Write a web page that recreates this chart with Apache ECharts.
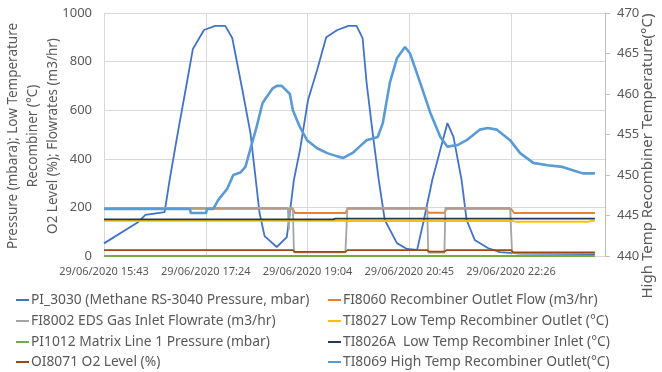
<!DOCTYPE html>
<html>
<head>
<meta charset="utf-8">
<script src="https://cdn.jsdelivr.net/npm/echarts@6/dist/echarts.min.js"></script>
<style>html,body{margin:0;padding:0;background:#fff}#c{width:662px;height:372px}</style>
</head>
<body>
<div id="c"></div>
<script>
// x values are minutes after 29/06/2020 15:43
const xTickLabels = ["29/06/2020 15:43", "29/06/2020 17:24", "29/06/2020 19:04", "29/06/2020 20:45", "29/06/2020 22:26"];
const xTickStep = 100.75;

const seriesNames = [
  "PI_3030 (Methane RS-3040 Pressure, mbar)",
  "FI8060 Recombiner Outlet Flow (m3/hr)",
  "FI8002 EDS Gas Inlet Flowrate (m3/hr)",
  "TI8027 Low Temp Recombiner Outlet (°C)",
  "PI1012 Matrix Line 1 Pressure (mbar)",
  "TI8026A  Low Temp Recombiner Inlet (°C)",
  "OI8071 O2 Level (%)",
  "TI8069 High Temp Recombiner Outlet(°C)"
];

const pi3030_t = [0,34,41,60,65,73,82,88,99,110,120,127,137,145,154,159,171,181,188,194,202,211,220,231,242,250,256,260,266,272,278,290,300,310,316,325,340,346,354,359,367,380,392,412,486];
const pi3030_v = [52,140,169,181,313,506,712,852,930,947,947,897,683,506,177,82,37,78,313,436,642,765,900,930,947,947,897,712,506,313,148,53,29,25,136,313,547,490,313,148,66,33,16,10,8];

const fi8060_t = [0,187,189,239,241,319,321,337,339,403,406,486];
const fi8060_v = [194,194,177,177,194,194,178,178,194,194,177,177];

const fi8002_t = [0,182,183,184,187,188,239,241,320,321,337,338,402,404,486];
const fi8002_v = [198,198,107,198,198,15,15,198,198,14,14,198,198,12,12];

const ti8027_t = [0,240,242,405,407,480,482,486];
const ti8027_v = [145,145,144,144,141,141,145,145];

const pi1012_t = [0,486];
const pi1012_v = [0,0];

const ti8026a_t = [0,227,229,486];
const ti8026a_v = [151,151,154,154];

const oi8071_t = [0,187,189,239,241,320,322,337,339,403,405,486];
const oi8071_v = [24,24,17,17,24,24,18,18,24,24,15,15];

const ti8069_t = [0,85,86,101,102,108,113,122,128,135,140,151,157,167,171,176,184,187,194,201,211,221,231,237,247,253,260,271,276,283,290,298,303,313,323,333,340,350,359,372,380,389,402,412,425,439,454,464,474,486];
const ti8069_v = [445.8,445.8,445.3,445.3,445.8,445.8,446.9,448.3,450.0,450.3,451.0,455.9,458.9,460.7,461.0,461.0,460.0,458.0,455.9,454.3,453.3,452.7,452.3,452.1,452.8,453.5,454.3,454.7,456.4,461.4,464.4,465.8,465.0,461.4,457.7,454.7,453.5,453.7,454.3,455.6,455.8,455.6,454.3,452.7,451.5,451.2,451.0,450.6,450.2,450.2];

const colors = ["#4472C4","#ED7D31","#A5A5A5","#FFC000","#70AD47","#1F3864","#9E480E","#5B9BD5"];

function pairs(t, v){ return t.map((x,i)=>[x, v[i]]); }

const FONT = "Noto Sans";
const TXT = "#595959";

const chart = echarts.init(document.getElementById('c'), null, {renderer:'canvas'});

const dataSets = [
  [pi3030_t, pi3030_v, 0, 1.8],
  [fi8060_t, fi8060_v, 0, 1.8],
  [fi8002_t, fi8002_v, 0, 1.8],
  [ti8027_t, ti8027_v, 0, 1.8],
  [pi1012_t, pi1012_v, 0, 1.8],
  [ti8026a_t, ti8026a_v, 0, 1.8],
  [oi8071_t, oi8071_v, 0, 1.8],
  [ti8069_t, ti8069_v, 1, 2.6]
];

const series = dataSets.map((d, i) => ({
  name: seriesNames[i],
  type: 'line',
  yAxisIndex: d[2],
  data: pairs(d[0], d[1]),
  symbol: 'none',
  showSymbol: false,
  animation: false,
  lineStyle: { color: colors[i], width: d[3] },
  itemStyle: { color: colors[i] },
  z: 2 + i
}));

// legend: two columns, four rows (row-major order as in the reference)
const legendCols = [16, 328];
const legendRows = [293, 314, 335, 355];
const legends = seriesNames.map((n, i) => ({
  data: [n],
  left: legendCols[i % 2],
  top: legendRows[Math.floor(i / 2)],
  padding: 0,
  itemWidth: 13,
  itemHeight: 2,
  icon: 'rect',
  selectedMode: false,
  textStyle: { color: TXT, fontSize: 13.8, fontFamily: FONT, padding: [0,0,0,-3] }
}));

chart.setOption({
  animation: false,
  color: colors,
  grid: { left: 104, right: 57, top: 13, bottom: 116, containLabel: false },
  legend: legends,
  xAxis: {
    type: 'value',
    min: 0,
    max: 496,
    interval: xTickStep,
    axisLine: { show: true, lineStyle: { color: '#d9d9d9' } },
    axisTick: { show: false },
    splitLine: { show: true, lineStyle: { color: '#d9d9d9', width: 1 } },
    axisLabel: {
      color: TXT, fontSize: 11, fontFamily: FONT, margin: 10,
      showMaxLabel: false,
      formatter: function (v) {
        const i = Math.round(v / xTickStep);
        if (Math.abs(v - i * xTickStep) < 0.01 && i < xTickLabels.length) return xTickLabels[i];
        return '';
      }
    }
  },
  yAxis: [
    {
      type: 'value', min: 0, max: 1000, interval: 200,
      axisLine: { show: false }, axisTick: { show: false },
      splitLine: { show: true, lineStyle: { color: '#d9d9d9', width: 1 } },
      axisLabel: { color: TXT, fontSize: 13, fontFamily: FONT, margin: 12, formatter: v => String(v) }
    },
    {
      type: 'value', min: 440, max: 470, interval: 5, position: 'right',
      axisLine: { show: true, lineStyle: { color: '#bfbfbf' } },
      axisTick: { show: true, inside: false, length: 5, lineStyle: { color: '#bfbfbf' } },
      splitLine: { show: false },
      axisLabel: { color: TXT, fontSize: 13, fontFamily: FONT, margin: 12, formatter: v => String(v) }
    }
  ],
  graphic: [
    {
      type: 'text', x: 33, y: 136, rotation: Math.PI / 2,
      style: {
        text: 'Pressure (mbara); Low Temperature\nRecombiner (°C)\nO2 Level (%); Flowrates (m3/hr)',
        textAlign: 'center', textVerticalAlign: 'middle',
        fontSize: 13.5, lineHeight: 20, fontFamily: FONT, fill: TXT
      }
    },
    {
      type: 'text', x: 648, y: 156, rotation: Math.PI / 2,
      style: {
        text: 'High Temp Recombiner Temperature(°C)',
        textAlign: 'center', textVerticalAlign: 'middle',
        fontSize: 15, fontFamily: FONT, fill: TXT
      }
    }
  ],
  series: series
});
</script>
</body>
</html>
